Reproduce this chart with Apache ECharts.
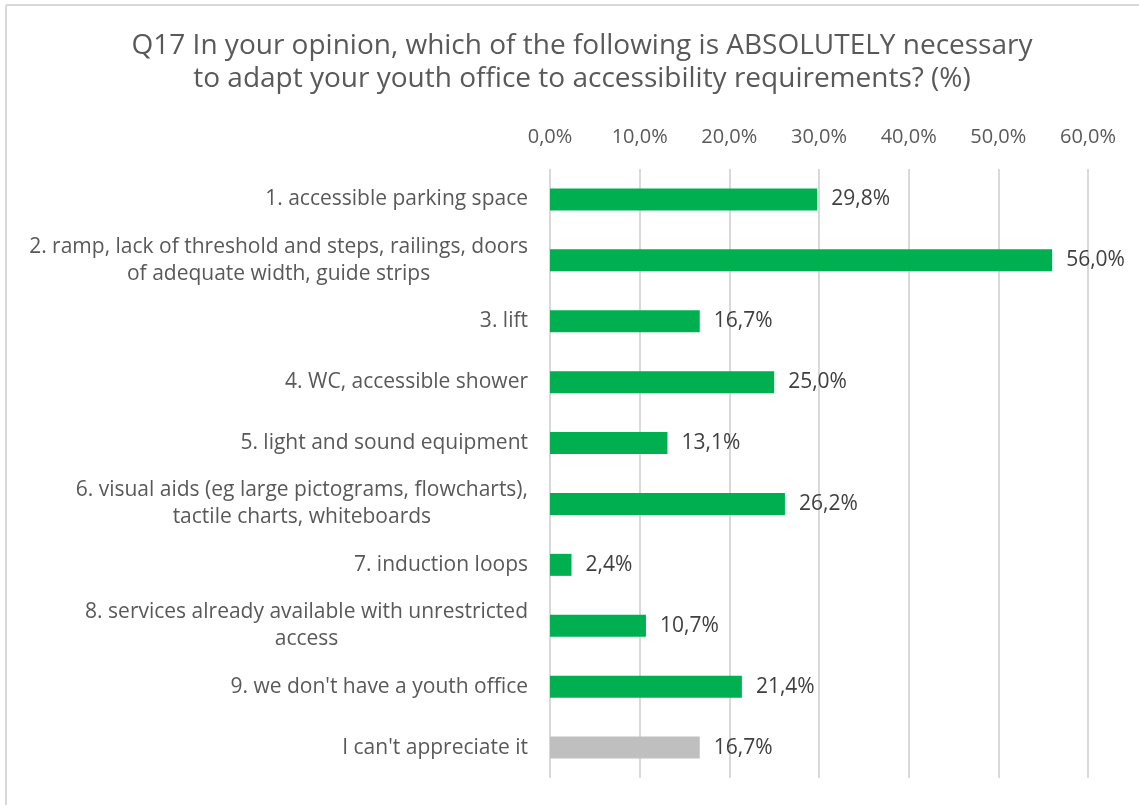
<!DOCTYPE html>
<html>
<head>
<meta charset="utf-8">
<script src="https://cdn.jsdelivr.net/npm/echarts@6/dist/echarts.min.js"></script>
<style>
  html, body { margin: 0; padding: 0; background: #ffffff; }
  #chart { width: 1139px; height: 805px; }
</style>
</head>
<body>
<div id="chart"></div>
<script>
// Survey answers (category labels, line breaks as printed)
const categories = [
  '1. accessible parking space',
  '2. ramp, lack of threshold and steps, railings, doors\nof adequate width, guide strips',
  '3. lift',
  '4. WC, accessible shower',
  '5. light and sound equipment',
  '6. visual aids (eg large pictograms, flowcharts),\ntactile charts, whiteboards',
  '7. induction loops',
  '8. services already available with unrestricted\naccess',
  "9. we don't have a youth office",
  "I can't appreciate it"
];

// Share of respondents, percent
const values = [29.8, 56.0, 16.7, 25.0, 13.1, 26.2, 2.4, 10.7, 21.4, 16.7];

// Axis ticks, percent
const axisMin = 0;
const axisMax = 60;
const axisStep = 10;

const GREEN = '#00B050';
const GREY = '#BFBFBF';
const FONT = '"Open Sans", Lato, sans-serif';

const fmt = v => v.toFixed(1).replace('.', ',') + '%';

const chart = echarts.init(document.getElementById('chart'));

chart.setOption({
  backgroundColor: '#ffffff',
  animation: false,
  title: {
    text: 'Q17 In your opinion, which of the following is ABSOLUTELY necessary\nto adapt your youth office to accessibility requirements? (%)',
    left: 577,
    top: 25,
    textAlign: 'center',
    textStyle: {
      fontFamily: FONT,
      fontSize: 28,
      fontWeight: 'normal',
      color: '#595959',
      lineHeight: 33
    }
  },
  graphic: [
    { type: 'line', shape: { x1: 6, y1: 5, x2: 1139, y2: 5 }, style: { stroke: '#d9d9d9', lineWidth: 2 } },
    { type: 'line', shape: { x1: 6, y1: 5, x2: 6, y2: 805 }, style: { stroke: '#d9d9d9', lineWidth: 2 } }
  ],
  grid: {
    left: 550,
    right: 51,
    top: 169,
    bottom: 27,
    containLabel: false
  },
  xAxis: {
    type: 'value',
    position: 'top',
    min: axisMin,
    max: axisMax,
    interval: axisStep,
    axisLine: { show: false },
    axisTick: { show: false },
    splitLine: { show: true, lineStyle: { color: '#d9d9d9', width: 2 } },
    axisLabel: {
      margin: 22,
      fontFamily: FONT,
      fontSize: 20,
      color: '#595959',
      formatter: v => fmt(v)
    }
  },
  yAxis: {
    type: 'category',
    inverse: true,
    data: categories,
    axisLine: { show: false },
    axisTick: { show: false },
    axisLabel: {
      margin: 22,
      align: 'right',
      fontFamily: FONT,
      fontSize: 21,
      color: '#595959',
      lineHeight: 27,
      formatter: v => v.split('\n').map(s => '{c|' + s + '}').join('\n'),
      rich: {
        c: { align: 'center', fontFamily: FONT, fontSize: 21, color: '#595959', lineHeight: 27 }
      }
    }
  },
  series: [{
    type: 'bar',
    barWidth: 22,
    data: values.map((v, i) => ({
      value: v,
      itemStyle: { color: i === values.length - 1 ? GREY : GREEN }
    })),
    label: {
      show: true,
      position: 'right',
      distance: 14,
      fontFamily: FONT,
      fontSize: 21,
      color: '#404040',
      formatter: p => fmt(p.value)
    }
  }]
});
</script>
</body>
</html>
